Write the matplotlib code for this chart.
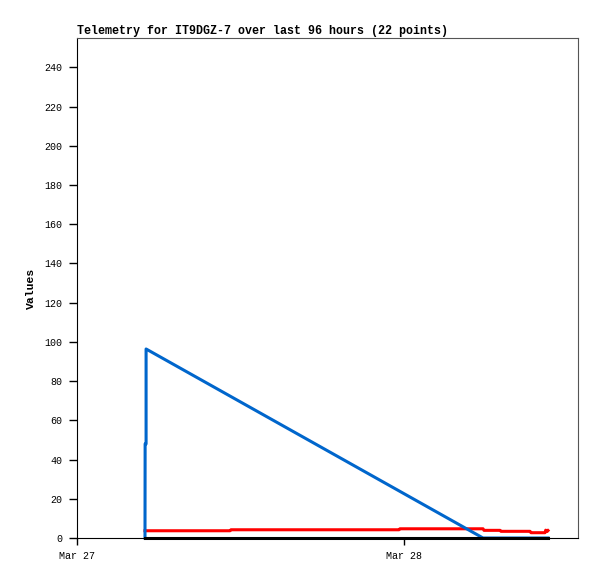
import matplotlib
matplotlib.use("Agg")
import matplotlib.pyplot as plt

# hours since Mar 27 00:00
red_t = [4.99, 11.23, 11.30, 23.63, 23.70, 29.80, 29.87, 31.05, 31.12, 33.25, 33.32, 34.35, 34.40, 34.50, 34.57]
red_v = [3.7, 3.7, 4.2, 4.2, 4.7, 4.7, 3.9, 3.9, 3.4, 3.4, 2.7, 2.7, 4.0, 3.3, 3.8]

blue_t = [4.99, 5.00, 5.07, 5.07, 29.80, 34.57]
blue_v = [0, 48, 48, 96.4, 0, 0]

black_t = [4.99, 34.57]
black_v = [0, 0]

x_ticks = [0, 24]
x_labels = ["Mar 27", "Mar 28"]
y_ticks = list(range(0, 241, 20))

FONT = "Liberation Mono"

fig = plt.figure(figsize=(5.97, 5.79), dpi=100)
ax = fig.add_axes([77 / 597, 1 - 538 / 579, (578 - 77) / 597, (538 - 38) / 579])

ax.plot(red_t, red_v, color="#ff0000", linewidth=2.2, clip_on=False)
ax.plot(blue_t, blue_v, color="#0066cc", linewidth=2.2, clip_on=False)
ax.plot(black_t, black_v, color="#000000", linewidth=2.2, clip_on=False, zorder=3)

ax.set_xlim(0, 36.77)
ax.set_ylim(0, 255)

ax.set_xticks(x_ticks)
ax.set_xticklabels(x_labels, family=FONT, fontsize=7.2)
ax.set_yticks(y_ticks)
ax.set_yticklabels([str(v) for v in y_ticks], family=FONT, fontsize=7.2)
ax.tick_params(axis="y", length=6, width=1, pad=4.5)
ax.tick_params(axis="x", length=5, width=1, pad=4.5)

for side in ["top", "right"]:
    ax.spines[side].set_color("#555555")
for side in ["left", "bottom"]:
    ax.spines[side].set_color("#000000")

ax.set_ylabel("Values", family=FONT, fontsize=8.2, fontweight="bold", labelpad=6)
ax.set_title("Telemetry for IT9DGZ-7 over last 96 hours (22 points)",
             loc="left", family=FONT, fontsize=8.4, fontweight="bold", pad=3)

fig.savefig("out.png", dpi=100)
